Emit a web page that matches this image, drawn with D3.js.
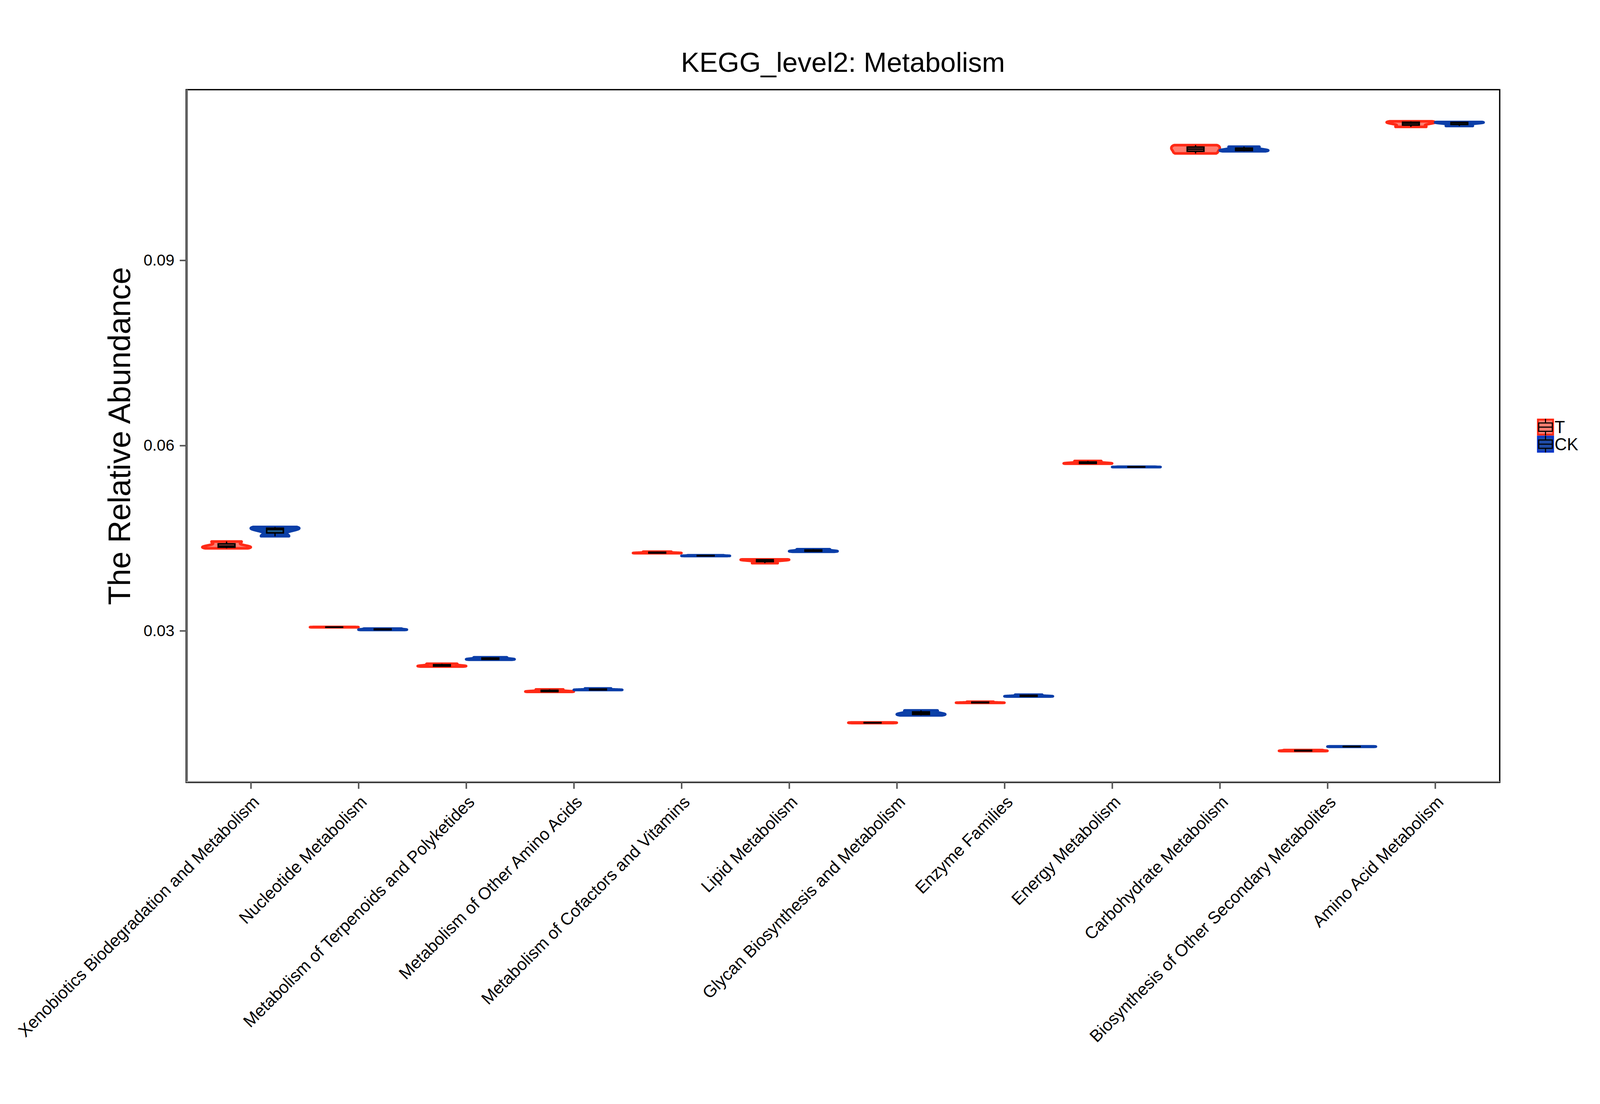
<!DOCTYPE html>
<html>
<head>
<meta charset="utf-8">
<script src="https://cdn.jsdelivr.net/npm/d3@7/dist/d3.min.js"></script>
<style>
  html, body { margin: 0; padding: 0; background: #ffffff; overflow: hidden; width: 100%; height: 100%; }
  svg { display: block; width: 100vw; height: 100vh; }
  text { font-family: "Liberation Sans", Arial, Helvetica, sans-serif; }
</style>
</head>
<body>
<svg id="chart" viewBox="0 0 4228 2827" preserveAspectRatio="xMidYMin meet"></svg>
<script>
// ---------------- data ----------------
const chartTitle = "KEGG_level2: Metabolism";
const yAxisTitle = "The Relative Abundance";
const categories = [
  "Xenobiotics Biodegradation and Metabolism",
  "Nucleotide Metabolism",
  "Metabolism of Terpenoids and Polyketides",
  "Metabolism of Other Amino Acids",
  "Metabolism of Cofactors and Vitamins",
  "Lipid Metabolism",
  "Glycan Biosynthesis and Metabolism",
  "Enzyme Families",
  "Energy Metabolism",
  "Carbohydrate Metabolism",
  "Biosynthesis of Other Secondary Metabolites",
  "Amino Acid Metabolism"
];
const groups = ["T", "CK"];
const seriesT = [
  [0.04335, 0.04370, 0.04445],
  [0.03055, 0.03058, 0.03061],
  [0.02420, 0.02435, 0.02465],
  [0.02010, 0.02020, 0.02050],
  [0.04255, 0.04262, 0.04280],
  [0.04095, 0.04145, 0.04155],
  [0.01505, 0.01510, 0.01515],
  [0.01832, 0.01836, 0.01850],
  [0.05705, 0.05715, 0.05750],
  [0.10730, 0.10800, 0.10865],
  [0.01050, 0.01058, 0.01068],
  [0.11160, 0.11220, 0.11250]
];
const seriesCK = [
  [0.04530, 0.04640, 0.04680],
  [0.03012, 0.03022, 0.03035],
  [0.02530, 0.02545, 0.02570],
  [0.02040, 0.02045, 0.02065],
  [0.04210, 0.04215, 0.04222],
  [0.04280, 0.04295, 0.04320],
  [0.01630, 0.01660, 0.01710],
  [0.01935, 0.01942, 0.01965],
  [0.05650, 0.05653, 0.05657],
  [0.10765, 0.10790, 0.10840],
  [0.01120, 0.01124, 0.01128],
  [0.11175, 0.11225, 0.11240]
];
const yTicks = [0.03, 0.06, 0.09];
const yDomain = [0.005441, 0.11763];

// ---------------- layout ----------------
const W = 4228, H = 2827;
const P = { left: 492, right: 3963, top: 237, bottom: 2068 };
const colors = {
  T:  { stroke: "#FF2A16", fill: "#FF7D70" },
  CK: { stroke: "#0B3EA8", fill: "#0D44A6" }
};

const svg = d3.select("#chart");
svg.append("rect").attr("width", W).attr("height", H).attr("fill", "#fff");

const x = d3.scalePoint().domain(categories).range([P.left, P.right]).padding(0.6);
const step = x.step();
const xg = d3.scaleBand().domain(groups).range([-0.45 * step, 0.45 * step]).padding(0);
const y = d3.scaleLinear().domain(yDomain).range([P.bottom, P.top]);

// ---------- stats helpers ----------
function q7(sorted, p) {
  const h = (sorted.length - 1) * p;
  const lo = Math.floor(h), hi = Math.ceil(h);
  return sorted[lo] + (h - lo) * (sorted[hi] - sorted[lo]);
}
function bwNrd0(vals) {
  const s = vals.slice().sort(d3.ascending);
  const hi = d3.deviation(s) || 0;
  let lo = Math.min(hi, (q7(s, 0.75) - q7(s, 0.25)) / 1.34);
  if (!(lo > 0)) lo = hi || Math.abs(s[0]) || 1;
  return 0.9 * lo * Math.pow(s.length, -0.2);
}
function density(vals) {
  const bw = bwNrd0(vals);
  const mn = d3.min(vals), mx = d3.max(vals);
  const n = 128;
  const pts = [];
  for (let i = 0; i < n; i++) {
    const v = mn + (mx - mn) * i / (n - 1);
    let dsum = 0;
    vals.forEach(xi => { const z = (v - xi) / bw; dsum += Math.exp(-0.5 * z * z); });
    pts.push([v, dsum]);
  }
  const m = d3.max(pts, p => p[1]);
  return pts.map(p => [p[0], p[1] / m]);
}

const plot = svg.append("g");

const allData = [];
categories.forEach((c, i) => {
  allData.push({ cat: c, group: "T", vals: seriesT[i] });
  allData.push({ cat: c, group: "CK", vals: seriesCK[i] });
});

const halfW = xg.bandwidth() / 2;
const boxW = 0.155 * step;

allData.forEach(d => {
  const cx = x(d.cat) + xg(d.group) + halfW;
  const dens = density(d.vals);
  const right = dens.map(p => [cx + p[1] * halfW, y(p[0])]);
  const left = dens.slice().reverse().map(p => [cx - p[1] * halfW, y(p[0])]);
  const col = colors[d.group];
  plot.append("path")
    .attr("d", d3.line()(right.concat(left)) + "Z")
    .attr("fill", col.fill)
    .attr("stroke", col.stroke)
    .attr("stroke-width", 7)
    .attr("stroke-linejoin", "round");

  // boxplot
  const s = d.vals.slice().sort(d3.ascending);
  const q1 = q7(s, 0.25), med = q7(s, 0.5), q3 = q7(s, 0.75);
  const iqr = q3 - q1;
  const wLo = d3.min(s.filter(v => v >= q1 - 1.5 * iqr));
  const wHi = d3.max(s.filter(v => v <= q3 + 1.5 * iqr));
  const g = plot.append("g");
  g.append("line").attr("x1", cx).attr("x2", cx).attr("y1", y(wHi)).attr("y2", y(q3))
    .attr("stroke", "#000").attr("stroke-width", 3.5);
  g.append("line").attr("x1", cx).attr("x2", cx).attr("y1", y(q1)).attr("y2", y(wLo))
    .attr("stroke", "#000").attr("stroke-width", 3.5);
  g.append("rect")
    .attr("x", cx - boxW / 2).attr("width", boxW)
    .attr("y", y(q3)).attr("height", Math.max(0.5, y(q1) - y(q3)))
    .attr("fill", d.group === "T" ? "#B05048" : "#1E5C8C")
    .attr("stroke", "#000").attr("stroke-width", 4);
  g.append("line").attr("x1", cx - boxW / 2).attr("x2", cx + boxW / 2)
    .attr("y1", y(med)).attr("y2", y(med))
    .attr("stroke", "#000").attr("stroke-width", 4);
});

// ---------- panel border & axes ----------
svg.append("rect")
  .attr("x", P.left).attr("y", P.top)
  .attr("width", P.right - P.left).attr("height", P.bottom - P.top)
  .attr("fill", "none").attr("stroke", "#000").attr("stroke-width", 3.5);
svg.append("line").attr("x1", P.left + 2).attr("x2", P.left + 2)
  .attr("y1", P.top).attr("y2", P.bottom)
  .attr("stroke", "#6e6e6e").attr("stroke-width", 5);
svg.append("line").attr("x1", P.left).attr("x2", P.right)
  .attr("y1", P.bottom - 2).attr("y2", P.bottom - 2)
  .attr("stroke", "#9a9a9a").attr("stroke-width", 3);

const yAxis = svg.append("g").attr("transform", `translate(${P.left},0)`)
  .call(d3.axisLeft(y).tickValues(yTicks).tickSize(17).tickPadding(14).tickFormat(d3.format(".2f")));
yAxis.select(".domain").remove();
yAxis.selectAll(".tick line").attr("stroke", "#555").attr("stroke-width", 4);
yAxis.selectAll(".tick text")
  .attr("font-size", 42).attr("fill", "#000")
  .style("font-family", '"Liberation Sans", Arial, sans-serif');

const xAxis = svg.append("g").attr("transform", `translate(0,${P.bottom})`)
  .call(d3.axisBottom(x).tickSize(17).tickFormat(""));
xAxis.select(".domain").remove();
xAxis.selectAll(".tick line").attr("stroke", "#555").attr("stroke-width", 4);

svg.append("g").selectAll("text").data(categories).join("text")
  .attr("transform", d => `translate(${x(d) + 2},${P.bottom + 32}) rotate(-45)`)
  .attr("text-anchor", "end")
  .attr("dy", "0.72em")
  .attr("font-size", 45)
  .attr("fill", "#000")
  .text(d => d);

// titles
svg.append("text")
  .attr("x", (P.left + P.right) / 2).attr("y", 190)
  .attr("text-anchor", "middle").attr("font-size", 73).attr("fill", "#000")
  .text(chartTitle);
svg.append("text")
  .attr("transform", `translate(315,${(P.top + P.bottom) / 2 + 0}) rotate(-90)`)
  .attr("text-anchor", "middle").attr("dominant-baseline", "central")
  .attr("font-size", 82).attr("fill", "#000")
  .text(yAxisTitle);

// ---------- legend ----------
const legend = svg.append("g").attr("transform", "translate(4062,1107)");
groups.forEach((gname, i) => {
  const gy = i * 45;
  const lg = legend.append("g").attr("transform", `translate(0,${gy})`);
  lg.append("rect").attr("x", 2).attr("y", 2).attr("width", 40).attr("height", 40)
    .attr("fill", gname === "T" ? "#FF7D70" : "#1F4BA5")
    .attr("stroke", gname === "T" ? "#FF2A16" : "#0A36C8").attr("stroke-width", 5);
  lg.append("line").attr("x1", 22).attr("x2", 22).attr("y1", 0).attr("y2", 44)
    .attr("stroke", "#000").attr("stroke-width", 3);
  lg.append("rect").attr("x", 4).attr("y", 11).attr("width", 36).attr("height", 22)
    .attr("fill", gname === "T" ? "#FF7D70" : "#1F4BA5")
    .attr("stroke", "#000").attr("stroke-width", 3);
  lg.append("line").attr("x1", 4).attr("x2", 40).attr("y1", 22).attr("y2", 22)
    .attr("stroke", "#000").attr("stroke-width", 3);
  lg.append("text").attr("x", 46).attr("y", 38)
    .attr("font-size", 45).attr("fill", "#000").text(gname);
});
</script>
</body>
</html>
